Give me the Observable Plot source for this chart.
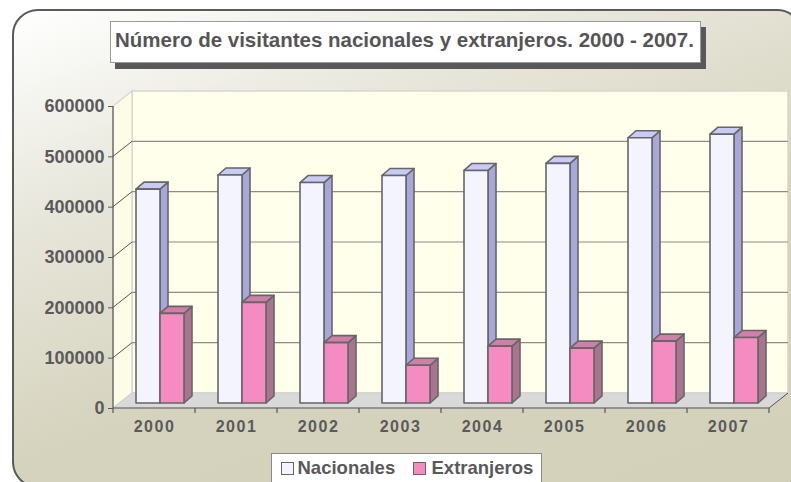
<!DOCTYPE html>
<html>
<head>
<meta charset="utf-8">
<script src="https://cdn.jsdelivr.net/npm/d3@7"></script>
<script src="https://cdn.jsdelivr.net/npm/@observablehq/plot@0.6"></script>
<style>
  html, body { margin: 0; padding: 0; background: #ffffff; overflow: hidden; width: 791px; height: 482px; }
  #wrap { position: relative; width: 791px; height: 482px; overflow: hidden; font-family: "Liberation Sans", Arial, sans-serif; }
  #panel { position: absolute; left: 12px; top: 9px; width: 787px; height: 475px; border: 2px solid #5a5a5a; border-radius: 26px;
           background: linear-gradient(160deg, #ffffff 0%, #e6e5d9 30%, #d5d3bd 60%, #d3d1ba 100%); }
  #chart { position: absolute; left: 0; top: 0; width: 791px; height: 482px; overflow: hidden; line-height: 0; }
  #titlebox { position: absolute; left: 110px; top: 21px; width: 589px; height: 40px; background: #fff; border: 1px solid #9a9a9a; box-shadow: 5px 6px 0 #595959; }
  #title { position: absolute; left: 115px; top: 30.3px; font-weight: bold; font-size: 20.5px; line-height: 1; color: #555; white-space: nowrap; }
  #legendbox { position: absolute; left: 271px; top: 453px; width: 269px; height: 40px; background: #fff; border: 1px solid #8a8a8a; }
  .lg-sw { position: absolute; top: 462px; width: 11px; height: 11px; border: 1px solid #666; }
  .lg-tx { position: absolute; top: 458.6px; font-weight: bold; font-size: 18.5px; line-height: 1; color: #595959; white-space: nowrap; }
  svg [aria-label="x-axis tick label"] text { letter-spacing: 1.5px; }
</style>
</head>
<body>
<div id="wrap">
  <div id="panel"></div>
  <div id="chart"></div>
  <div id="titlebox"></div>
  <div id="title"></div>
  <div id="legendbox"></div>
</div>
<script>
// ---- data ----
const years = ["2000", "2001", "2002", "2003", "2004", "2005", "2006", "2007"];
const nacionales = [425000, 453000, 438000, 452000, 462000, 476000, 527000, 534000];
const extranjeros = [178000, 200000, 120000, 75000, 113000, 109000, 123000, 130000];
const seriesNames = ["Nacionales", "Extranjeros"];
const yTicks = [0, 100000, 200000, 300000, 400000, 500000, 600000];
const titleText = "Número de visitantes nacionales y extranjeros. 2000 - 2007.";

const colors = [
  {front: "#f4f4ff", side: "#a7a7dc", top: "#cacafa"},
  {front: "#f58cc1", side: "#a8748f", top: "#d07fab"}
];

const data = years.flatMap((yr, i) => [
  {year: yr, serie: seriesNames[0], value: nacionales[i]},
  {year: yr, serie: seriesNames[1], value: extranjeros[i]}
]);

// 3D styling constants (pixels)
const WALL_DX = 19, WALL_DY = 15;
const BAR_OFF = 23, BAR_W = 24, BAR_DX = 8, BAR_DY = 7, BAR_UP = 5;

function frameRender(index, scales, values, dim) {
  const {x, y} = scales;
  const x0 = dim.marginLeft, x1 = dim.width - dim.marginRight;
  const yb = y(yTicks[0]), yt = y(yTicks[yTicks.length - 1]);
  const g = d3.create("svg:g");
  g.append("path").attr("d", `M${x0 + WALL_DX},${yt - WALL_DY}H${x1 + WALL_DX}V${yb - WALL_DY}H${x0 + WALL_DX}Z`)
    .attr("fill", "#ffffeb").attr("stroke", "#d6d6d0").attr("stroke-width", 1.5);
  g.append("path").attr("d", `M${x0},${yt}L${x0 + WALL_DX},${yt - WALL_DY}V${yb - WALL_DY}L${x0},${yb}Z`)
    .attr("fill", "#fdfde7").attr("stroke", "#d6d6d0").attr("stroke-width", 1.2);
  for (const t of yTicks.slice(1, -1)) {
    const yy = y(t);
    g.append("line").attr("x1", x0 + WALL_DX).attr("x2", x1 + WALL_DX).attr("y1", yy - WALL_DY).attr("y2", yy - WALL_DY)
      .attr("stroke", "#8d8d85").attr("stroke-width", 1.1);
    g.append("line").attr("x1", x0).attr("x2", x0 + WALL_DX).attr("y1", yy).attr("y2", yy - WALL_DY)
      .attr("stroke", "#555").attr("stroke-width", 1);
  }
  g.append("path").attr("d", `M${x0},${yb}L${x0 + WALL_DX},${yb - WALL_DY}H${x1 + WALL_DX}L${x1},${yb}Z`)
    .attr("fill", "#d9d9d9").attr("stroke", "#cfcfcf").attr("stroke-width", 1);
  g.append("line").attr("x1", x1).attr("x2", x1 + WALL_DX).attr("y1", yb).attr("y2", yb - WALL_DY)
    .attr("stroke", "#555").attr("stroke-width", 1);
  g.append("line").attr("x1", x0).attr("x2", x0).attr("y1", yt).attr("y2", yb).attr("stroke", "#555").attr("stroke-width", 1.2);
  g.append("line").attr("x1", x0).attr("x2", x1).attr("y1", yb).attr("y2", yb).attr("stroke", "#555").attr("stroke-width", 1.2);
  const bounds = years.map(d => x(d)).concat([x1]);
  for (const bx of bounds) {
    g.append("line").attr("x1", bx).attr("x2", bx).attr("y1", yb).attr("y2", yb + 5).attr("stroke", "#555").attr("stroke-width", 1.2);
  }
  return g.node();
}

function barsRender(index, scales) {
  const {x, y} = scales;
  const g = d3.create("svg:g").attr("stroke", "#666").attr("stroke-width", 1.6).attr("stroke-linejoin", "round");
  for (const i of index) {
    const d = data[i];
    const k = seriesNames.indexOf(d.serie);
    const xl = x(d.year) + BAR_OFF + k * BAR_W;
    const xr = xl + BAR_W;
    const yb = y(0) - BAR_UP;
    const yt = y(d.value) - BAR_UP;
    const c = colors[k];
    g.append("path").attr("d", `M${xr},${yb}L${xr + BAR_DX},${yb - BAR_DY}V${yt - BAR_DY}L${xr},${yt}Z`).attr("fill", c.side);
    g.append("path").attr("d", `M${xl},${yt}L${xl + BAR_DX},${yt - BAR_DY}H${xr + BAR_DX}L${xr},${yt}Z`).attr("fill", c.top);
    g.append("path").attr("d", `M${xl},${yb}V${yt}H${xr}V${yb}Z`).attr("fill", c.front);
  }
  return g.node();
}

const chart = Plot.plot({
  width: 791,
  height: 482,
  marginLeft: 113,
  marginRight: 22,
  marginTop: 106,
  marginBottom: 74,
  style: {background: "transparent", fontFamily: "'Liberation Sans', Arial, sans-serif"},
  x: {type: "band", domain: years, padding: 0, label: null},
  y: {domain: [0, 600000], label: null},
  marks: [
    Plot.ruleY(yTicks, {y: d => d, render: frameRender}),
    Plot.axisY(yTicks, {tickFormat: d => String(d), tickSize: 5, tickPadding: 4, fontSize: 18, fontWeight: "bold", color: "#5a5a5a", label: null}),
    Plot.axisX({tickSize: 0, tickPadding: 12, fontSize: 16, fontWeight: "bold", color: "#5a5a5a", label: null}),
    Plot.dot(data, {x: "year", y: "value", render: barsRender})
  ]
});
document.getElementById("chart").appendChild(chart);

document.getElementById("title").textContent = titleText;

const wrap = document.getElementById("wrap");
const legendPos = [{sw: 280.5, tx: 297.5}, {sw: 412.5, tx: 431.5}];
seriesNames.forEach((name, k) => {
  const sw = document.createElement("div");
  sw.className = "lg-sw";
  sw.style.left = legendPos[k].sw + "px";
  sw.style.background = colors[k].front;
  wrap.appendChild(sw);
  const tx = document.createElement("div");
  tx.className = "lg-tx";
  tx.style.left = legendPos[k].tx + "px";
  tx.textContent = name;
  wrap.appendChild(tx);
});
</script>
</body>
</html>
